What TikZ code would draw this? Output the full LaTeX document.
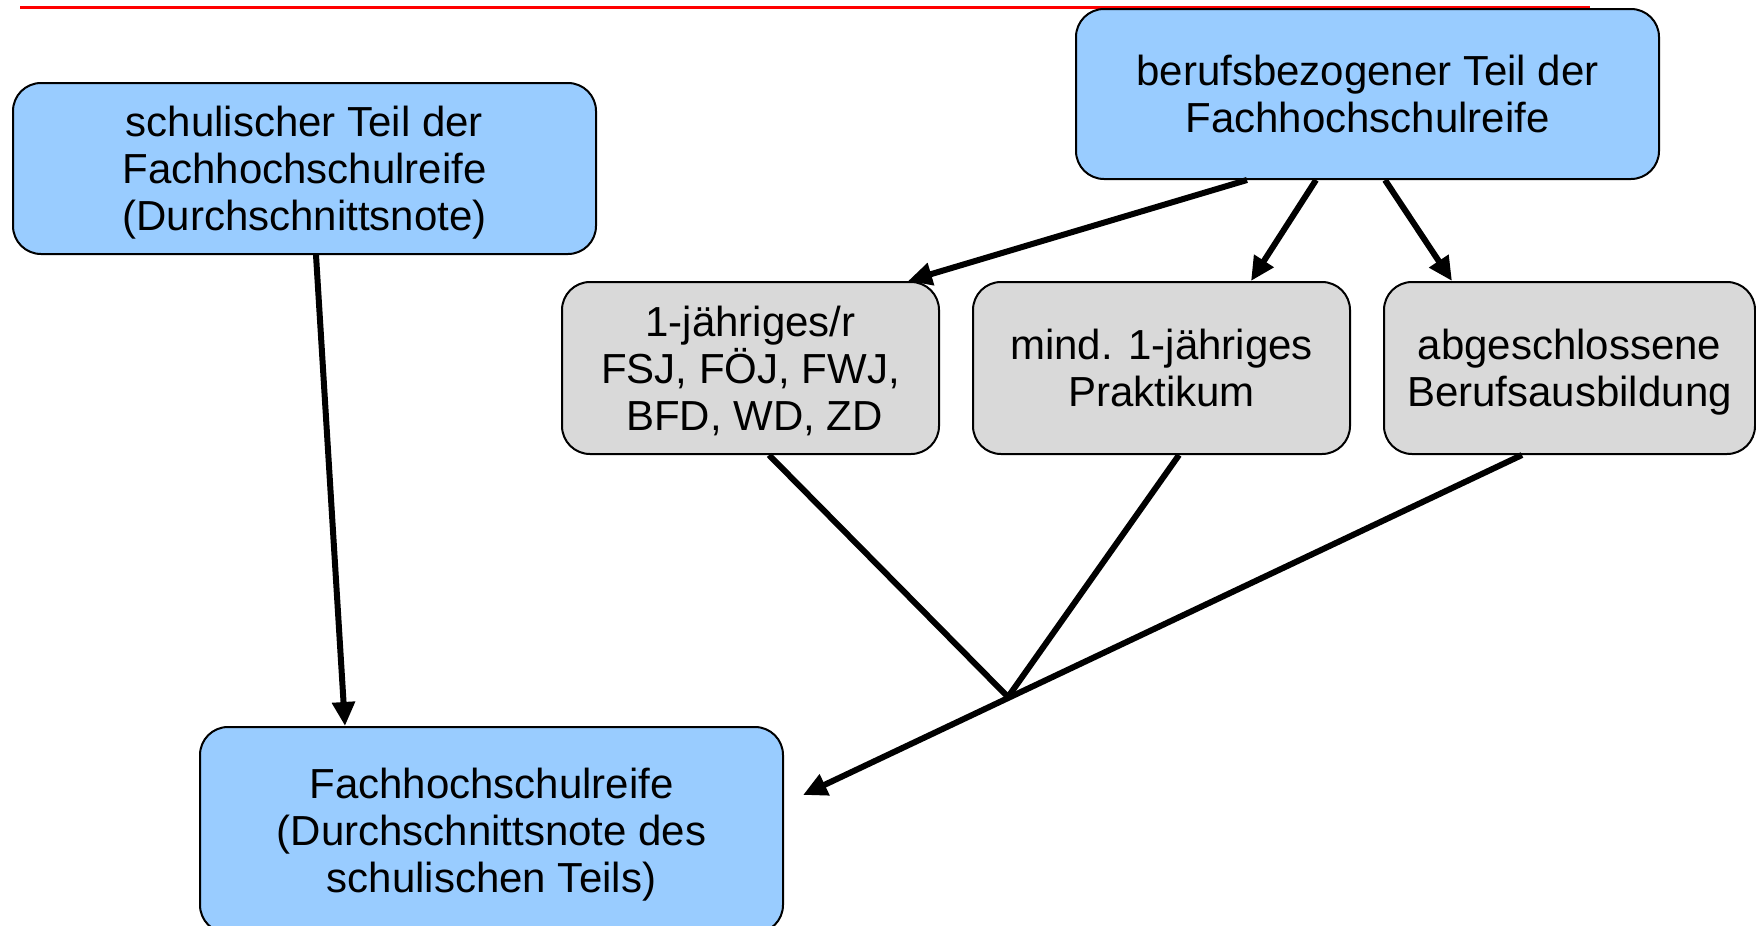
\documentclass[tikz,border=0pt]{standalone}
\usepackage{fontspec}
\setmainfont{Liberation Sans}
\usetikzlibrary{arrows.meta,calc}
\definecolor{boxblue}{HTML}{99CCFF}
\definecolor{boxgray}{HTML}{D9D9D9}
\definecolor{topred}{HTML}{FF0000}
\newcommand\mytop{\rule{0pt}{42pt}}
\newcommand\mybot{\rule[-11.4pt]{0pt}{0pt}}
\begin{document}
\begin{tikzpicture}[x=1pt,y=-1pt,
  box/.style={draw=black,line width=2pt,rounded corners=28pt,inner sep=0pt,align=center,
    font=\fontsize{42pt}{47pt}\selectfont},
  bluebox/.style={box,fill=boxblue,minimum width=583pt,minimum height=171pt},
  graybox/.style={box,fill=boxgray,minimum width=377pt,minimum height=172pt},
  conn/.style={line width=6pt,draw=black},
  arr/.style={conn,-{Triangle[length=24pt,width=22pt]}}]
\useasboundingbox (0,0) rectangle (1756,926);
\clip (0,0) rectangle (1756,926);
\coordinate (r1) at (20,7);
\coordinate (r2) at (1590,7);
\draw[topred,line width=3pt] (r1) -- (r2);

\node[bluebox] (s) at (304.5,168.5) {\mytop schulischer Teil der\\Fachhochschulreife\\(Durchschnittsnote)\mybot};
\node[bluebox,minimum height=170pt] (b) at (1367.5,94) {\mytop berufsbezogener Teil der\\Fachhochschulreife\mybot};
\node[graybox] (g1) at (750.5,368) {\mytop 1-jähriges/r\\FSJ, FÖJ, FWJ,\\\hspace*{8pt}BFD, WD, ZD\mybot};
\node[graybox] (g2) at (1161.5,368) {\mytop mind. 1-jähriges\\Praktikum\mybot};
\node[graybox,minimum width=371pt] (g3) at (1569.5,368) {\mytop abgeschlossene\\Berufsausbildung\mybot};
\node[bluebox,minimum height=206pt] (f) at (491.5,830) {\mytop Fachhochschulreife\\(Durchschnittsnote des\\schulischen Teils)\mybot};

\draw[arr] ([xshift=11.5pt]s.south) -- ([xshift=-146.5pt]f.north);
\draw[arr] ([xshift=-120.5pt]b.south) -- ([xshift=157.5pt]g1.north);
\draw[arr] ([xshift=-51.5pt]b.south) -- ([xshift=89.5pt]g2.north);
\draw[arr] ([xshift=17.5pt]b.south) -- ([xshift=-117.5pt]g3.north);
\coordinate (tip) at (803,795);
\coordinate (J) at (1008,697);
\draw[conn] ([xshift=18.5pt]g1.south) -- (J);
\draw[conn] ([xshift=17.5pt]g2.south) -- (J);
\draw[arr] ([xshift=-47.5pt]g3.south) -- (tip);
\end{tikzpicture}
\end{document}
